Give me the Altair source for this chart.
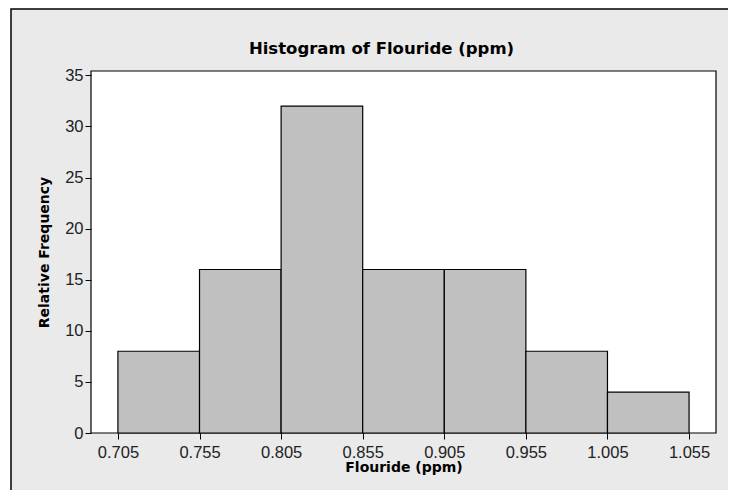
import altair as alt
import pandas as pd

bin_start = [0.705, 0.755, 0.805, 0.855, 0.905, 0.955, 1.005]
bin_end = [0.755, 0.805, 0.855, 0.905, 0.955, 1.005, 1.055]
rel_freq = [8, 16, 32, 16, 16, 8, 4]
x_ticks = [0.705, 0.755, 0.805, 0.855, 0.905, 0.955, 1.005, 1.055]
y_ticks = [0, 5, 10, 15, 20, 25, 30, 35]
title_text = "Histogram of Flouride (ppm)"

df = pd.DataFrame({"start": bin_start, "end": bin_end, "freq": rel_freq})

W, H = 625, 362
BG = "#EAEAEA"

frame = alt.Chart(pd.DataFrame({"a": [0]})).mark_rect(
    fill=BG, stroke="black", strokeWidth=1.5
).encode(
    x=alt.value(-80), x2=alt.value(W + 40), y=alt.value(-62), y2=alt.value(H + 80)
)

plotbg = alt.Chart(pd.DataFrame({"a": [0]})).mark_rect(
    fill="white", stroke="black", strokeWidth=1.2
).encode(
    x=alt.value(0), x2=alt.value(W), y=alt.value(0), y2=alt.value(H)
)

title = alt.Chart(pd.DataFrame({"t": [title_text]})).mark_text(
    font="DejaVu Sans", fontSize=16.5, fontWeight="bold", color="black",
    align="center", baseline="alphabetic"
).encode(
    text="t:N", x=alt.value(W / 2 - 22), y=alt.value(-17)
)

bars = alt.Chart(df).mark_rect(
    fill="#C0C0C0", stroke="black", strokeWidth=1.2
).encode(
    x=alt.X("start:Q",
            scale=alt.Scale(domain=[0.6885, 1.0715], nice=False, zero=False),
            axis=alt.Axis(values=x_ticks, format=".3f", title="Flouride (ppm)",
                          grid=False, domain=False, tickSize=6, tickColor="black",
                          labelPadding=5, labelFontSize=16.5, labelColor="#222",
                          labelFont="Liberation Sans", titleFont="DejaVu Sans",
                          titleFontSize=14, titleFontWeight="bold", titleColor="black",
                          titlePadding=0, labelFlush=False, zindex=2)),
    x2="end:Q",
    y=alt.Y("freq:Q",
            scale=alt.Scale(domain=[0, 35.43], nice=False),
            axis=alt.Axis(values=y_ticks, title="Relative Frequency",
                          grid=False, domain=False, tickSize=6, tickColor="black",
                          labelPadding=2, labelFontSize=16.5, labelColor="#222",
                          labelFont="Liberation Sans", titleFont="DejaVu Sans",
                          titleFontSize=14, titleFontWeight="bold", titleColor="black",
                          titlePadding=13, labelFlush=False, zindex=2)),
    y2=alt.datum(0),
)

chart = alt.layer(frame, plotbg, title, bars).properties(
    width=W, height=H,
    autosize=alt.AutoSizeParams(type="none"),
    padding={"left": 83, "top": 63, "right": 12, "bottom": 57},
).configure_view(stroke=None).configure(background="white")

chart.save("out.html", embed_options={"renderer": "svg", "actions": False})
